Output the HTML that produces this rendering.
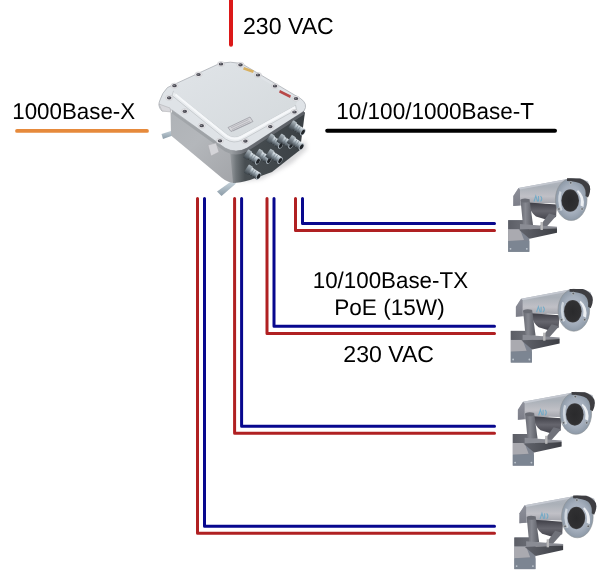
<!DOCTYPE html>
<html><head><meta charset="utf-8">
<style>
html,body{margin:0;padding:0;background:#fff;width:600px;height:578px;overflow:hidden}
svg{display:block}
text{font-family:"Liberation Sans",sans-serif;font-size:22.7px;fill:#000;opacity:0.999;text-rendering:geometricPrecision}
</style></head>
<body>
<svg width="600" height="578" viewBox="0 0 600 578">
<defs>
<linearGradient id="bodyL" x1="0" y1="0" x2="1" y2="1">
<stop offset="0" stop-color="#aeb2b6"/><stop offset="0.45" stop-color="#b4b7bb"/><stop offset="1" stop-color="#a2a4a8"/>
</linearGradient>
<linearGradient id="bodyR" x1="0" y1="0" x2="1" y2="0">
<stop offset="0" stop-color="#9a9ea2"/><stop offset="0.08" stop-color="#70767a"/><stop offset="0.2" stop-color="#484e52"/><stop offset="1" stop-color="#3a4044"/>
</linearGradient>
<linearGradient id="lid" x1="0" y1="0" x2="1" y2="1">
<stop offset="0" stop-color="#e0e4e8"/><stop offset="1" stop-color="#d4d9dc"/>
</linearGradient>
<linearGradient id="gland" x1="0" y1="0" x2="0" y2="1">
<stop offset="0" stop-color="#e8eef2"/><stop offset="0.35" stop-color="#b0bcc4"/><stop offset="0.7" stop-color="#6a747c"/><stop offset="1" stop-color="#2e3438"/>
</linearGradient>
<linearGradient id="glandN" x1="0" y1="0" x2="0" y2="1">
<stop offset="0" stop-color="#b8c2c8"/><stop offset="0.5" stop-color="#747e86"/><stop offset="1" stop-color="#3a4248"/>
</linearGradient>
<filter id="blur2" x="-20%" y="-20%" width="140%" height="140%"><feGaussianBlur stdDeviation="2"/></filter>
<linearGradient id="fside" gradientUnits="userSpaceOnUse" x1="172" y1="0" x2="304" y2="0">
<stop offset="0" stop-color="#a4a8ac"/><stop offset="0.45" stop-color="#9a9ea2"/><stop offset="0.55" stop-color="#6a6e74"/><stop offset="1" stop-color="#5a5e64"/>
</linearGradient>
<linearGradient id="foot" x1="0" y1="0" x2="0" y2="1">
<stop offset="0" stop-color="#c8d4dc"/><stop offset="1" stop-color="#8c9ca8"/>
</linearGradient>
<!-- camera gradients -->
<linearGradient id="cHous" x1="0" y1="0" x2="0" y2="1">
<stop offset="0" stop-color="#b4b8c0"/><stop offset="0.3" stop-color="#aab0b8"/><stop offset="0.65" stop-color="#c0c0c6"/><stop offset="1" stop-color="#9a9ca4"/>
</linearGradient>
<linearGradient id="cPlate" x1="0" y1="0" x2="1" y2="0">
<stop offset="0" stop-color="#8c8c8e"/><stop offset="0.5" stop-color="#b4b4b6"/><stop offset="1" stop-color="#9a9a9c"/>
</linearGradient>
<radialGradient id="cBez" cx="0.5" cy="0.5" r="0.55">
<stop offset="0" stop-color="#b8c0cc"/><stop offset="0.6" stop-color="#a4aebc"/><stop offset="0.9" stop-color="#8e9aa8"/><stop offset="1" stop-color="#7a8694"/>
</radialGradient>
<radialGradient id="cLens" cx="0.5" cy="0.5" r="0.55">
<stop offset="0" stop-color="#2a2a2c"/><stop offset="0.8" stop-color="#303032"/><stop offset="1" stop-color="#555558"/>
</radialGradient>
<linearGradient id="cArm" x1="0" y1="0" x2="1" y2="0">
<stop offset="0" stop-color="#62646c"/><stop offset="1" stop-color="#3c3e44"/>
</linearGradient>
<linearGradient id="cYoke" x1="0" y1="0" x2="1" y2="0">
<stop offset="0" stop-color="#686a72"/><stop offset="0.4" stop-color="#868890"/><stop offset="1" stop-color="#5a5c64"/>
</linearGradient>
<linearGradient id="cBody" x1="0" y1="0" x2="0" y2="1">
<stop offset="0" stop-color="#3e3e46"/><stop offset="0.5" stop-color="#66666e"/><stop offset="1" stop-color="#44444c"/>
</linearGradient>
<linearGradient id="cSide" x1="0" y1="0" x2="0" y2="1">
<stop offset="0" stop-color="#8e909a"/><stop offset="1" stop-color="#7c7e88"/>
</linearGradient>
<linearGradient id="cPlateTop" x1="0" y1="0" x2="1" y2="0">
<stop offset="0" stop-color="#5c5e66"/><stop offset="1" stop-color="#70727a"/>
</linearGradient>
<g id="cam">
  <!-- housing + sunshield -->
  <path d="M513.3,196 L518.5,188 L570,178.4 L581,178.4 L588,181.5 L590.5,189.5 L585,196 L560,203.5 L545,203 L530,205 L513.3,206 Z" fill="url(#cHous)"/>
  <path d="M518.5,188 L570,178.4 L574,179.4 L520,189.6 Z" fill="#c4c8d0"/>
  <polygon points="513.3,196 518.5,188 520,189.6 520,205.2 513.3,206" fill="url(#cSide)"/>
  <!-- body cylinder -->
  <path d="M528,202.5 L557,204.5 L556,217 L546,219.5 L536,216.5 Q530,212 528,202.5 Z" fill="url(#cBody)"/>
  <!-- wall plate -->
  <rect x="508.2" y="220.2" width="21.1" height="31.6" fill="#7e8490"/>
  <rect x="508.2" y="220.2" width="21.1" height="9" fill="url(#cPlateTop)"/>
  <polygon points="508.2,229.2 520,229.2 524,240 508.2,241" fill="#aaaab0"/>
  <rect x="508.2" y="241" width="21.1" height="10.8" fill="#7c8592"/>
  <circle cx="510.5" cy="248.8" r="0.9" fill="#c0c8d0"/><circle cx="526.8" cy="248.8" r="0.9" fill="#c0c8d0"/>
  <!-- yoke -->
  <polygon points="520.5,199.5 529.5,199 533,225 523,225.5" fill="url(#cYoke)"/>
  <ellipse cx="525" cy="200.5" rx="4.2" ry="2" fill="#6a6c74"/>
  <polygon points="549,213.5 556.5,215.5 545.5,228 538.5,228" fill="#70727a"/>
  <!-- bracket arm -->
  <polygon points="520,224 557,226.8 557,228.5 520,229.6" fill="#8a8c94"/>
  <polygon points="518.7,229.6 557,228.3 557,232.7 529.6,238.8" fill="url(#cArm)"/>
  <rect x="540.5" y="222" width="2.4" height="8" fill="#b8b8ba"/>
  <!-- sunshield dark overhang -->
  <!-- bezel -->
  <ellipse cx="571.2" cy="199.5" rx="15.8" ry="21" fill="url(#cBez)" stroke="#8c9094" stroke-width="0.6"/>
  <path d="M578,190 Q585.5,196 583.5,207 L580.5,205.5 Q582,197 577,191.5 Z" fill="#f4f6f8" opacity="0.9"/>
  <path d="M559.5,191 Q556.5,200 560.5,211 L562.5,210 Q559.5,201 561.5,192 Z" fill="#d4dae2" opacity="0.9"/>
  <path d="M567,178.2 L580,178.4 Q587,180.5 589.8,186 Q591,192 588,197.5 L585.5,196 Q586.5,189 582,184.5 Q577,181 567,181 Z" fill="#3e3e42"/>
  <ellipse cx="570.2" cy="200.6" rx="8.85" ry="11.25" fill="url(#cLens)"/>
  <g fill="#5e6268" stroke="#c8ccd0" stroke-width="0.6">
  <circle cx="570.7" cy="182.8" r="1.3"/>
  <circle cx="558.9" cy="209" r="1.3"/>
  <circle cx="582.1" cy="209" r="1.3"/>
  </g>
  <!-- logo -->
  <path d="M534,201.5 l1.8,-5.5 l1.8,5.5 M538.5,196 v5.5 M540.5,196 q2.5,2.7 0,5.5" fill="none" stroke="#6aa8c8" stroke-width="1.1" opacity="0.85"/>
</g>
</defs>

<!-- top power line -->
<line x1="231" y1="-3" x2="231" y2="44.7" stroke="#dc1818" stroke-width="4" stroke-linecap="round"/>
<text transform="translate(243,33.6) scale(1,1.01)" style="font-size:23.1px">230 VAC</text>
<!-- 1000Base-X -->
<text transform="translate(12.2,119) scale(1,1.025)" style="font-size:22.35px">1000Base-X</text>
<line x1="17" y1="130.9" x2="147" y2="130.9" stroke="#e68a3c" stroke-width="3.8" stroke-linecap="round"/>
<!-- 10/100/1000Base-T -->
<text transform="translate(336.3,118.6) scale(1,1.025)" style="font-size:22.53px">10/100/1000Base-T</text>
<line x1="327.2" y1="130.8" x2="555" y2="130.8" stroke="#000" stroke-width="4" stroke-linecap="round"/>

<!-- enclosure -->
<g id="encl">
  <!-- feet -->
  <polygon points="161.5,134 174,130 175.5,134.5 163,139" fill="url(#foot)"/>
  <polygon points="217,191.5 231,181.5 236,183.5 221.5,196" fill="url(#foot)"/>
  <!-- body left face -->
  <path d="M164,108 L170.5,109 L171,135.5 L222,178 Q228,183 236,183 L236,150 Z" fill="url(#bodyL)"/>
  <!-- shadow under glands -->
  <path d="M238,182 L262,179 L292,163 L307,149 L305,140 L280,160 Z" fill="#8c8c92" opacity="0.35" filter="url(#blur2)"/>
  <!-- body right face -->
  <path d="M230,151 L233,183 Q240,183 250,180 L272,172 L300,150 L305,112 Z" fill="url(#bodyR)"/>
  <!-- flange top -->
  <path d="M167.5,87.5 L220,63.3 Q230,61 241.5,63.5 L300.5,98.5 Q308.5,104 304,111 L247,148 Q236,154 225,148 L172,110 L162,111 Q157,106 160,100 Q162,93 167.5,87.5 Z" fill="#dfe3e7" stroke="#a4a8ae" stroke-width="0.7"/>
  <!-- flange side band -->
  <path d="M172,110 L225,148 Q236,154 247,148 L304,111 L304,114.5 L247,151.5 Q236,157.5 225,151.5 L172,113.5 Z" fill="url(#fside)"/>
  <!-- lid rim -->
  <path d="M173.5,91 L227,134 Q234,139 241,135 L295.5,105 L296.5,109.5 L242.5,139.8 Q234,144.5 225.5,139 L172,95.5 Z" fill="#e9ecef" stroke="#b4b8bc" stroke-width="0.6"/>
  <!-- lid -->
  <path d="M176,85.5 L220,66 Q230,63.3 240,66 L293,97.5 Q300,102 294,106 L241,135 Q234,139 227,134 L175,93 Q171,89 176,85 Z" fill="url(#lid)"/>
  <!-- lid ridge highlight -->
  <path d="M175.5,94.5 L226.5,136 Q234,141 241.5,137 L295,107.5" fill="none" stroke="#f6f8fa" stroke-width="2"/>
  <!-- nameplate -->
  <polygon points="228,127.5 250,117 253,121.5 231,131.5" fill="#d4d4d8" stroke="#8c8c94" stroke-width="0.6"/>
  <path d="M231,127.8 L248.5,119.5 M232,129.5 L249.8,121.2 M233,131 L251,122.6" stroke="#9a9aa2" stroke-width="0.5"/>
  <!-- labels -->
  <polygon points="244,67 254,70.5 253,73 243,69.5" fill="#d8b060"/>
  <polygon points="280,90 291,95.5 290,98 279,92.5" fill="#b84848"/>
  <!-- tab at front -->
  <polygon points="208,145 216,143 219,152 211,156" fill="#d4d4d8" stroke="#a8a8ac" stroke-width="0.5"/>
  <polygon points="159,104 170,108 171,112 162,111" fill="#d8d8dc" stroke="#a8a8ac" stroke-width="0.5"/>
  <!-- bolts -->
  <g>
    <ellipse cx="174.5" cy="85.7" rx="3.6" ry="2.6" fill="#eaeaee" stroke="#b8b8bc" stroke-width="0.4"/><ellipse cx="174.5" cy="85.7" rx="2.3" ry="1.6" fill="#4c4c54"/><ellipse cx="174.1" cy="85.4" rx="0.9" ry="0.6" fill="#8a8a92"/>
    <ellipse cx="198.5" cy="74.5" rx="3.6" ry="2.6" fill="#eaeaee" stroke="#b8b8bc" stroke-width="0.4"/><ellipse cx="198.5" cy="74.5" rx="2.3" ry="1.6" fill="#4c4c54"/><ellipse cx="198.1" cy="74.2" rx="0.9" ry="0.6" fill="#8a8a92"/>
    <ellipse cx="221" cy="64" rx="3.6" ry="2.6" fill="#eaeaee" stroke="#b8b8bc" stroke-width="0.4"/><ellipse cx="221" cy="64" rx="2.3" ry="1.6" fill="#4c4c54"/><ellipse cx="220.6" cy="63.7" rx="0.9" ry="0.6" fill="#8a8a92"/>
    <ellipse cx="240.5" cy="64.8" rx="3.6" ry="2.6" fill="#eaeaee" stroke="#b8b8bc" stroke-width="0.4"/><ellipse cx="240.5" cy="64.8" rx="2.3" ry="1.6" fill="#4c4c54"/><ellipse cx="240.1" cy="64.5" rx="0.9" ry="0.6" fill="#8a8a92"/>
    <ellipse cx="258" cy="75" rx="3.6" ry="2.6" fill="#eaeaee" stroke="#b8b8bc" stroke-width="0.4"/><ellipse cx="258" cy="75" rx="2.3" ry="1.6" fill="#4c4c54"/><ellipse cx="257.6" cy="74.7" rx="0.9" ry="0.6" fill="#8a8a92"/>
    <ellipse cx="275" cy="86" rx="3.6" ry="2.6" fill="#eaeaee" stroke="#b8b8bc" stroke-width="0.4"/><ellipse cx="275" cy="86" rx="2.3" ry="1.6" fill="#4c4c54"/><ellipse cx="274.6" cy="85.7" rx="0.9" ry="0.6" fill="#8a8a92"/>
    <ellipse cx="296" cy="98.5" rx="3.6" ry="2.6" fill="#eaeaee" stroke="#b8b8bc" stroke-width="0.4"/><ellipse cx="296" cy="98.5" rx="2.3" ry="1.6" fill="#4c4c54"/><ellipse cx="295.6" cy="98.2" rx="0.9" ry="0.6" fill="#8a8a92"/>
    <ellipse cx="294.5" cy="112" rx="3.6" ry="2.6" fill="#eaeaee" stroke="#b8b8bc" stroke-width="0.4"/><ellipse cx="294.5" cy="112" rx="2.3" ry="1.6" fill="#4c4c54"/><ellipse cx="294.1" cy="111.7" rx="0.9" ry="0.6" fill="#8a8a92"/>
    <ellipse cx="270.3" cy="126.6" rx="3.6" ry="2.6" fill="#eaeaee" stroke="#b8b8bc" stroke-width="0.4"/><ellipse cx="270.3" cy="126.6" rx="2.3" ry="1.6" fill="#4c4c54"/><ellipse cx="269.90000000000003" cy="126.3" rx="0.9" ry="0.6" fill="#8a8a92"/>
    <ellipse cx="245.4" cy="141.1" rx="3.6" ry="2.6" fill="#eaeaee" stroke="#b8b8bc" stroke-width="0.4"/><ellipse cx="245.4" cy="141.1" rx="2.3" ry="1.6" fill="#4c4c54"/><ellipse cx="245.0" cy="140.79999999999998" rx="0.9" ry="0.6" fill="#8a8a92"/>
    <ellipse cx="220" cy="140.8" rx="3.6" ry="2.6" fill="#eaeaee" stroke="#b8b8bc" stroke-width="0.4"/><ellipse cx="220" cy="140.8" rx="2.3" ry="1.6" fill="#4c4c54"/><ellipse cx="219.6" cy="140.5" rx="0.9" ry="0.6" fill="#8a8a92"/>
    <ellipse cx="201.7" cy="125.7" rx="3.6" ry="2.6" fill="#eaeaee" stroke="#b8b8bc" stroke-width="0.4"/><ellipse cx="201.7" cy="125.7" rx="2.3" ry="1.6" fill="#4c4c54"/><ellipse cx="201.29999999999998" cy="125.4" rx="0.9" ry="0.6" fill="#8a8a92"/>
    <ellipse cx="184.8" cy="111.3" rx="3.6" ry="2.6" fill="#eaeaee" stroke="#b8b8bc" stroke-width="0.4"/><ellipse cx="184.8" cy="111.3" rx="2.3" ry="1.6" fill="#4c4c54"/><ellipse cx="184.4" cy="111.0" rx="0.9" ry="0.6" fill="#8a8a92"/>
    <ellipse cx="169.2" cy="97.8" rx="3.6" ry="2.6" fill="#eaeaee" stroke="#b8b8bc" stroke-width="0.4"/><ellipse cx="169.2" cy="97.8" rx="2.3" ry="1.6" fill="#4c4c54"/><ellipse cx="168.79999999999998" cy="97.5" rx="0.9" ry="0.6" fill="#8a8a92"/>
  </g>
  <!-- glands -->
  <g>
    <g transform="translate(302.8,132.1) rotate(33)"><rect x="-14.5" y="-4.8" width="5" height="9.6" rx="0.8" fill="url(#glandN)"/><rect x="-10" y="-3.8" width="10" height="7.6" fill="url(#gland)"/><path d="M-7.5,-3.8 v7.6 M-5,-3.8 v7.6" stroke="#6a7880" stroke-width="0.5"/><ellipse cx="0" cy="0" rx="2" ry="3.8" fill="#aab4bc"/><ellipse cx="0.2" cy="0" rx="1.5" ry="2.8" fill="#202428"/></g>
    <g transform="translate(280.7,145.3) rotate(33)"><rect x="-14.5" y="-4.8" width="5" height="9.6" rx="0.8" fill="url(#glandN)"/><rect x="-10" y="-3.8" width="10" height="7.6" fill="url(#gland)"/><path d="M-7.5,-3.8 v7.6 M-5,-3.8 v7.6" stroke="#6a7880" stroke-width="0.5"/><ellipse cx="0" cy="0" rx="2" ry="3.8" fill="#aab4bc"/><ellipse cx="0.2" cy="0" rx="1.5" ry="2.8" fill="#202428"/></g>
    <g transform="translate(291,145.3) rotate(33)"><rect x="-14.5" y="-4.8" width="5" height="9.6" rx="0.8" fill="url(#glandN)"/><rect x="-10" y="-3.8" width="10" height="7.6" fill="url(#gland)"/><path d="M-7.5,-3.8 v7.6 M-5,-3.8 v7.6" stroke="#6a7880" stroke-width="0.5"/><ellipse cx="0" cy="0" rx="2" ry="3.8" fill="#aab4bc"/><ellipse cx="0.2" cy="0" rx="1.5" ry="2.8" fill="#202428"/></g>
    <g transform="translate(301.4,146.7) rotate(33)"><rect x="-14.5" y="-4.8" width="5" height="9.6" rx="0.8" fill="url(#glandN)"/><rect x="-10" y="-3.8" width="10" height="7.6" fill="url(#gland)"/><path d="M-7.5,-3.8 v7.6 M-5,-3.8 v7.6" stroke="#6a7880" stroke-width="0.5"/><ellipse cx="0" cy="0" rx="2" ry="3.8" fill="#aab4bc"/><ellipse cx="0.2" cy="0" rx="1.5" ry="2.8" fill="#202428"/></g>
    <g transform="translate(268.9,160.5) rotate(33)"><rect x="-14.5" y="-4.8" width="5" height="9.6" rx="0.8" fill="url(#glandN)"/><rect x="-10" y="-3.8" width="10" height="7.6" fill="url(#gland)"/><path d="M-7.5,-3.8 v7.6 M-5,-3.8 v7.6" stroke="#6a7880" stroke-width="0.5"/><ellipse cx="0" cy="0" rx="2" ry="3.8" fill="#aab4bc"/><ellipse cx="0.2" cy="0" rx="1.5" ry="2.8" fill="#202428"/></g>
    <g transform="translate(280,160.5) rotate(33)"><rect x="-14.5" y="-4.8" width="5" height="9.6" rx="0.8" fill="url(#glandN)"/><rect x="-10" y="-3.8" width="10" height="7.6" fill="url(#gland)"/><path d="M-7.5,-3.8 v7.6 M-5,-3.8 v7.6" stroke="#6a7880" stroke-width="0.5"/><ellipse cx="0" cy="0" rx="2" ry="3.8" fill="#aab4bc"/><ellipse cx="0.2" cy="0" rx="1.5" ry="2.8" fill="#202428"/></g>
    <g transform="translate(257.8,161.2) rotate(33)"><rect x="-14.5" y="-4.8" width="5" height="9.6" rx="0.8" fill="url(#glandN)"/><rect x="-10" y="-3.8" width="10" height="7.6" fill="url(#gland)"/><path d="M-7.5,-3.8 v7.6 M-5,-3.8 v7.6" stroke="#6a7880" stroke-width="0.5"/><ellipse cx="0" cy="0" rx="2" ry="3.8" fill="#aab4bc"/><ellipse cx="0.2" cy="0" rx="1.5" ry="2.8" fill="#202428"/></g>
    <g transform="translate(258.5,176.2) rotate(33)"><rect x="-14.5" y="-4.8" width="5" height="9.6" rx="0.8" fill="url(#glandN)"/><rect x="-10" y="-3.8" width="10" height="7.6" fill="url(#gland)"/><path d="M-7.5,-3.8 v7.6 M-5,-3.8 v7.6" stroke="#6a7880" stroke-width="0.5"/><ellipse cx="0" cy="0" rx="2" ry="3.8" fill="#aab4bc"/><ellipse cx="0.2" cy="0" rx="1.5" ry="2.8" fill="#202428"/></g>
  </g>
</g>

<!-- pairs -->
<g fill="none" stroke-width="3" stroke-linecap="round" stroke-linejoin="round">
<polyline points="302.5,198.5 302.5,223.5 494.5,223.5" stroke="#08088e"/>
<polyline points="295.5,198.5 295.5,230.5 494.5,230.5" stroke="#b02022"/>
<polyline points="274,198.5 274,326.3 494.5,326.3" stroke="#08088e"/>
<polyline points="267,198.5 267,333.4 494.5,333.4" stroke="#b02022"/>
<polyline points="241.6,198.5 241.6,426.3 494.5,426.3" stroke="#08088e"/>
<polyline points="234.6,198.5 234.6,433.3 494.5,433.3" stroke="#b02022"/>
<polyline points="204.5,198.5 204.5,526.3 494.5,526.3" stroke="#08088e"/>
<polyline points="197.5,198.5 197.5,533.3 494.5,533.3" stroke="#b02022"/>
</g>
<text transform="translate(312.7,287.6) scale(1,1.025)" style="font-size:22.36px">10/100Base-TX</text>
<text transform="translate(334.2,315) scale(1,1.0)" style="font-size:22.6px">PoE (15W)</text>
<text transform="translate(343.3,362) scale(1,1.0)" style="font-size:23.1px">230 VAC</text>

<!-- cameras -->
<use href="#cam"/>
<use href="#cam" transform="translate(2.6,110.7)"/>
<use href="#cam" transform="translate(4.6,213.8)"/>
<use href="#cam" transform="translate(6.15,317.3)"/>
</svg>
</body></html>
